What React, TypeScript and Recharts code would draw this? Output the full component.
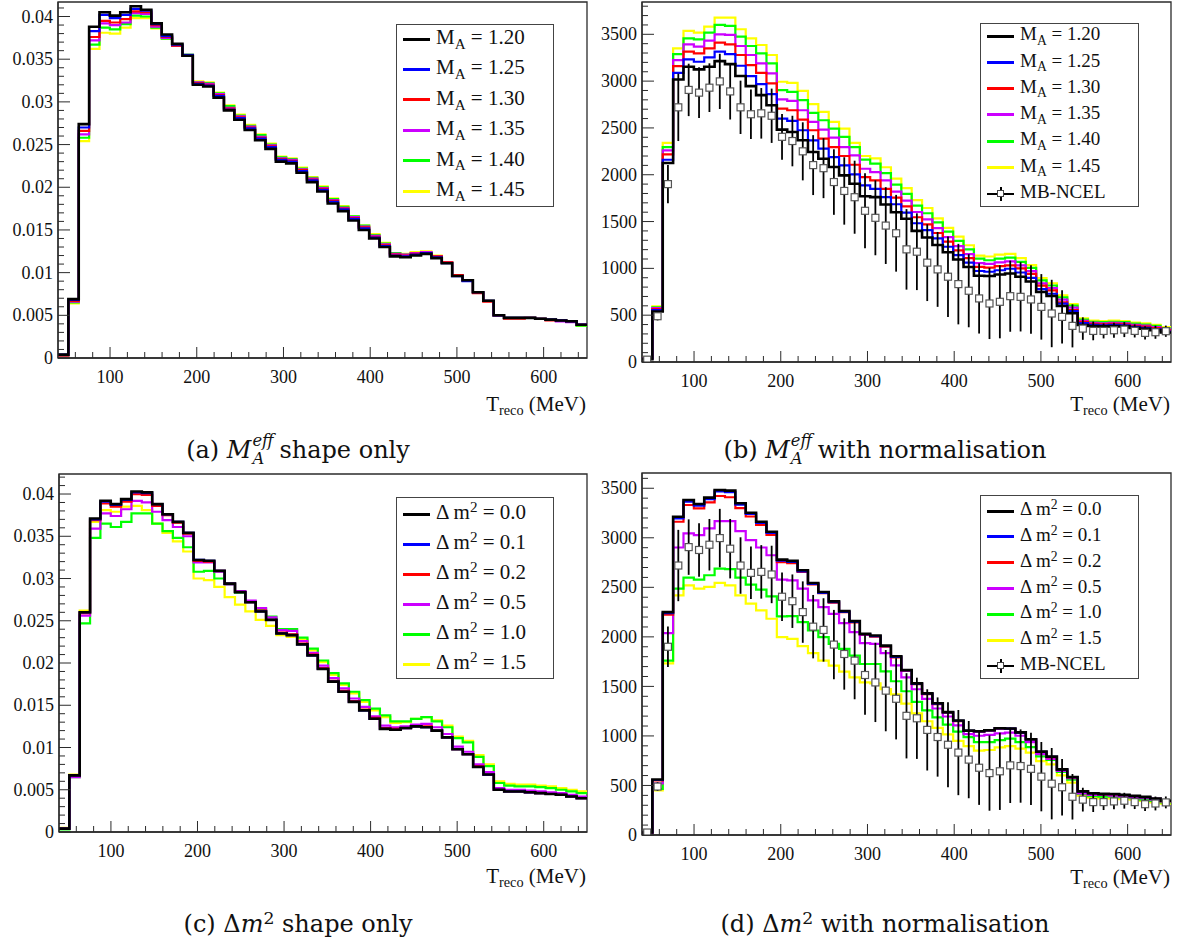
import React from "react";
import { ComposedChart, Line, XAxis, YAxis, ErrorBar, ReferenceArea } from "recharts";

// 51 bins, 40–650 MeV
const BIN_EDGES = [
  40, 51.96, 63.92, 75.88, 87.84, 99.8, 111.76, 123.73, 135.69, 147.65, 159.61, 171.57, 183.53,
  195.49, 207.45, 219.41, 231.37, 243.33, 255.29, 267.25, 279.22, 291.18, 303.14, 315.1, 327.06,
  339.02, 350.98, 362.94, 374.9, 386.86, 398.82, 410.78, 422.75, 434.71, 446.67, 458.63, 470.59,
  482.55, 494.51, 506.47, 518.43, 530.39, 542.35, 554.31, 566.27, 578.24, 590.2, 602.16, 614.12,
  626.08, 638.04, 650,
];

const COLORS = ["#000000", "#0000ff", "#ff0000", "#cc00ff", "#00ff00", "#ffff00"];
const MA_LABELS = ["1.20", "1.25", "1.30", "1.35", "1.40", "1.45"];
const DM2_LABELS = ["0.0", "0.1", "0.2", "0.5", "1.0", "1.5"];
const X_TICKS = [60, 80, 100, 120, 140, 160, 180, 200, 220, 240, 260, 280, 300, 320, 340, 360, 380, 400, 420, 440, 460, 480, 500, 520, 540, 560, 580, 600, 620, 640];

// (a) M_A shape only
const A_MA120 = [0.0004, 0.0069, 0.0274, 0.0388, 0.0405, 0.0401, 0.0405, 0.0412, 0.0408, 0.0392, 0.0379, 0.0368, 0.0354, 0.0320, 0.0318, 0.0305, 0.0290, 0.0279, 0.0267, 0.0255, 0.0245, 0.0230, 0.0228, 0.0217, 0.0206, 0.0195, 0.0181, 0.0172, 0.0161, 0.0150, 0.0140, 0.0130, 0.0119, 0.0118, 0.0120, 0.0122, 0.0117, 0.0111, 0.0096, 0.0091, 0.0077, 0.0067, 0.0050, 0.0047, 0.0047, 0.0047, 0.0046, 0.0045, 0.0044, 0.0043, 0.0039];
const A_MA125 = [0.0004, 0.0068, 0.0270, 0.0383, 0.0402, 0.0398, 0.0402, 0.0409, 0.0407, 0.0391, 0.0377, 0.0367, 0.0355, 0.0321, 0.0319, 0.0307, 0.0291, 0.0281, 0.0269, 0.0257, 0.0247, 0.0232, 0.0230, 0.0219, 0.0208, 0.0197, 0.0183, 0.0174, 0.0163, 0.0152, 0.0141, 0.0131, 0.0120, 0.0119, 0.0121, 0.0123, 0.0118, 0.0111, 0.0096, 0.0090, 0.0077, 0.0067, 0.0050, 0.0047, 0.0047, 0.0047, 0.0046, 0.0045, 0.0044, 0.0043, 0.0039];
const A_MA130 = [0.0003, 0.0067, 0.0266, 0.0376, 0.0395, 0.0393, 0.0397, 0.0406, 0.0405, 0.0390, 0.0376, 0.0366, 0.0354, 0.0322, 0.0320, 0.0308, 0.0292, 0.0282, 0.0270, 0.0258, 0.0248, 0.0233, 0.0231, 0.0220, 0.0209, 0.0198, 0.0184, 0.0175, 0.0164, 0.0153, 0.0142, 0.0132, 0.0121, 0.0120, 0.0122, 0.0123, 0.0119, 0.0112, 0.0097, 0.0091, 0.0076, 0.0066, 0.0050, 0.0046, 0.0046, 0.0047, 0.0046, 0.0044, 0.0044, 0.0043, 0.0039];
const A_MA135 = [0.0003, 0.0066, 0.0262, 0.0372, 0.0392, 0.0390, 0.0393, 0.0404, 0.0403, 0.0388, 0.0375, 0.0366, 0.0354, 0.0323, 0.0321, 0.0309, 0.0293, 0.0283, 0.0271, 0.0259, 0.0249, 0.0234, 0.0232, 0.0221, 0.0210, 0.0199, 0.0185, 0.0176, 0.0165, 0.0154, 0.0143, 0.0133, 0.0122, 0.0121, 0.0123, 0.0124, 0.0119, 0.0112, 0.0097, 0.0091, 0.0077, 0.0067, 0.0050, 0.0047, 0.0047, 0.0047, 0.0046, 0.0045, 0.0043, 0.0042, 0.0039];
const A_MA140 = [0.0003, 0.0065, 0.0258, 0.0367, 0.0387, 0.0385, 0.0391, 0.0401, 0.0400, 0.0387, 0.0374, 0.0366, 0.0355, 0.0323, 0.0322, 0.0310, 0.0295, 0.0284, 0.0272, 0.0261, 0.0250, 0.0235, 0.0233, 0.0222, 0.0211, 0.0200, 0.0186, 0.0177, 0.0166, 0.0155, 0.0144, 0.0134, 0.0123, 0.0121, 0.0123, 0.0124, 0.0119, 0.0112, 0.0097, 0.0091, 0.0077, 0.0067, 0.0050, 0.0047, 0.0047, 0.0047, 0.0046, 0.0045, 0.0044, 0.0043, 0.0038];
const A_MA145 = [0.0003, 0.0064, 0.0254, 0.0362, 0.0381, 0.0380, 0.0387, 0.0398, 0.0398, 0.0386, 0.0374, 0.0366, 0.0355, 0.0324, 0.0323, 0.0311, 0.0296, 0.0285, 0.0273, 0.0262, 0.0251, 0.0236, 0.0234, 0.0223, 0.0212, 0.0201, 0.0187, 0.0178, 0.0166, 0.0155, 0.0145, 0.0135, 0.0123, 0.0122, 0.0124, 0.0125, 0.0120, 0.0112, 0.0097, 0.0091, 0.0077, 0.0067, 0.0050, 0.0047, 0.0047, 0.0047, 0.0046, 0.0045, 0.0044, 0.0043, 0.0038];

// (b) M_A with normalisation
const B_MA120 = [30, 540, 2125, 3018, 3154, 3125, 3154, 3214, 3182, 3054, 2946, 2850, 2743, 2482, 2457, 2368, 2243, 2171, 2082, 1993, 1904, 1771, 1761, 1682, 1600, 1530, 1400, 1330, 1250, 1172, 1095, 1015, 922, 918, 935, 945, 910, 860, 748, 705, 598, 520, 395, 385, 380, 385, 380, 365, 355, 340, 315];
const B_MA125 = [35, 555, 2160, 3089, 3232, 3207, 3254, 3314, 3289, 3164, 3054, 2968, 2861, 2600, 2575, 2475, 2368, 2279, 2189, 2100, 2004, 1886, 1850, 1761, 1685, 1596, 1482, 1409, 1320, 1231, 1142, 1061, 972, 964, 980, 996, 956, 899, 778, 729, 624, 543, 415, 396, 391, 396, 391, 376, 366, 351, 326];
const B_MA130 = [38, 565, 2218, 3160, 3314, 3296, 3350, 3411, 3393, 3279, 3171, 3089, 2975, 2707, 2689, 2589, 2475, 2386, 2296, 2200, 2107, 1975, 1939, 1850, 1756, 1663, 1546, 1470, 1378, 1285, 1193, 1109, 1016, 1008, 1025, 1033, 1000, 941, 815, 764, 638, 554, 428, 407, 402, 407, 402, 387, 377, 362, 337];
const B_MA135 = [40, 575, 2260, 3225, 3393, 3368, 3432, 3500, 3493, 3375, 3279, 3189, 3082, 2804, 2789, 2689, 2564, 2482, 2396, 2296, 2207, 2064, 2029, 1939, 1819, 1723, 1602, 1524, 1429, 1334, 1238, 1152, 1057, 1048, 1065, 1074, 1031, 970, 840, 788, 667, 580, 440, 418, 413, 418, 413, 398, 388, 373, 348];
const B_MA140 = [42, 585, 2296, 3289, 3457, 3446, 3518, 3600, 3589, 3475, 3375, 3296, 3189, 2904, 2886, 2796, 2661, 2582, 2493, 2404, 2296, 2161, 2118, 2018, 1895, 1796, 1670, 1589, 1491, 1392, 1293, 1203, 1105, 1087, 1105, 1114, 1069, 1006, 871, 817, 691, 602, 452, 430, 425, 430, 425, 410, 400, 385, 360];
const B_MA145 = [45, 595, 2340, 3350, 3536, 3518, 3582, 3679, 3679, 3554, 3457, 3386, 3279, 2993, 2982, 2896, 2754, 2671, 2564, 2493, 2340, 2200, 2175, 2080, 1959, 1857, 1728, 1645, 1534, 1432, 1340, 1247, 1137, 1127, 1146, 1155, 1109, 1035, 896, 841, 711, 619, 465, 442, 437, 442, 437, 422, 412, 397, 372];

// (c) dm2 shape only
const C_DM00 = [0.0004, 0.0067, 0.0260, 0.0371, 0.0392, 0.0388, 0.0394, 0.0403, 0.0402, 0.0388, 0.0376, 0.0367, 0.0354, 0.0322, 0.0321, 0.0309, 0.0294, 0.0284, 0.0272, 0.0261, 0.0251, 0.0235, 0.0233, 0.0222, 0.0209, 0.0193, 0.0178, 0.0166, 0.0154, 0.0144, 0.0134, 0.0122, 0.0121, 0.0123, 0.0125, 0.0124, 0.0120, 0.0112, 0.0098, 0.0092, 0.0077, 0.0068, 0.0050, 0.0048, 0.0048, 0.0047, 0.0046, 0.0045, 0.0044, 0.0042, 0.0040];
const C_DM01 = [0.0004, 0.0067, 0.0260, 0.0370, 0.0391, 0.0387, 0.0393, 0.0402, 0.0401, 0.0388, 0.0376, 0.0367, 0.0354, 0.0322, 0.0321, 0.0309, 0.0294, 0.0284, 0.0272, 0.0261, 0.0251, 0.0235, 0.0233, 0.0222, 0.0209, 0.0193, 0.0178, 0.0166, 0.0154, 0.0144, 0.0134, 0.0122, 0.0121, 0.0123, 0.0125, 0.0124, 0.0120, 0.0112, 0.0098, 0.0092, 0.0077, 0.0068, 0.0050, 0.0048, 0.0048, 0.0047, 0.0046, 0.0045, 0.0044, 0.0042, 0.0040];
const C_DM02 = [0.0004, 0.0067, 0.0259, 0.0369, 0.0389, 0.0385, 0.0391, 0.0400, 0.0399, 0.0386, 0.0375, 0.0366, 0.0353, 0.0321, 0.0320, 0.0309, 0.0294, 0.0284, 0.0272, 0.0262, 0.0251, 0.0236, 0.0234, 0.0223, 0.0210, 0.0194, 0.0179, 0.0167, 0.0155, 0.0145, 0.0135, 0.0123, 0.0122, 0.0123, 0.0125, 0.0125, 0.0120, 0.0112, 0.0098, 0.0092, 0.0078, 0.0068, 0.0050, 0.0048, 0.0048, 0.0047, 0.0046, 0.0045, 0.0044, 0.0042, 0.0040];
const C_DM05 = [0.0004, 0.0065, 0.0256, 0.0359, 0.0377, 0.0374, 0.0382, 0.0392, 0.0390, 0.0379, 0.0369, 0.0361, 0.0350, 0.0319, 0.0319, 0.0308, 0.0293, 0.0285, 0.0274, 0.0265, 0.0254, 0.0239, 0.0238, 0.0226, 0.0212, 0.0197, 0.0182, 0.0170, 0.0158, 0.0148, 0.0137, 0.0126, 0.0124, 0.0125, 0.0127, 0.0128, 0.0124, 0.0116, 0.0101, 0.0095, 0.0080, 0.0071, 0.0052, 0.0050, 0.0050, 0.0049, 0.0048, 0.0047, 0.0046, 0.0044, 0.0042];
const C_DM10 = [0.0003, 0.0065, 0.0247, 0.0348, 0.0365, 0.0361, 0.0367, 0.0377, 0.0377, 0.0365, 0.0356, 0.0348, 0.0337, 0.0308, 0.0309, 0.0300, 0.0293, 0.0283, 0.0273, 0.0264, 0.0255, 0.0240, 0.0240, 0.0230, 0.0217, 0.0203, 0.0188, 0.0176, 0.0166, 0.0156, 0.0146, 0.0138, 0.0131, 0.0131, 0.0134, 0.0136, 0.0131, 0.0124, 0.0111, 0.0106, 0.0089, 0.0078, 0.0058, 0.0055, 0.0054, 0.0054, 0.0053, 0.0052, 0.0050, 0.0048, 0.0046];
const C_DM15 = [0.0005, 0.0068, 0.0262, 0.0367, 0.0381, 0.0379, 0.0385, 0.0386, 0.0381, 0.0365, 0.0354, 0.0344, 0.0332, 0.0300, 0.0298, 0.0290, 0.0278, 0.0269, 0.0261, 0.0251, 0.0244, 0.0233, 0.0231, 0.0228, 0.0215, 0.0201, 0.0186, 0.0174, 0.0164, 0.0154, 0.0144, 0.0136, 0.0129, 0.0130, 0.0134, 0.0136, 0.0132, 0.0126, 0.0113, 0.0108, 0.0091, 0.0080, 0.0060, 0.0057, 0.0056, 0.0056, 0.0055, 0.0054, 0.0052, 0.0050, 0.0048];

// (d) dm2 with normalisation
const D_DM00 = [25, 560, 2250, 3213, 3382, 3341, 3405, 3483, 3476, 3348, 3253, 3162, 3061, 2780, 2767, 2672, 2544, 2453, 2358, 2260, 2159, 2031, 2014, 1912, 1804, 1666, 1530, 1430, 1330, 1240, 1156, 1054, 1048, 1058, 1078, 1075, 1036, 966, 842, 791, 662, 585, 440, 422, 415, 414, 405, 395, 385, 368, 345];
const D_DM01 = [25, 555, 2240, 3195, 3365, 3325, 3390, 3468, 3460, 3335, 3240, 3150, 3050, 2770, 2757, 2662, 2535, 2445, 2350, 2252, 2152, 2025, 2008, 1906, 1798, 1661, 1526, 1426, 1326, 1237, 1153, 1052, 1046, 1056, 1076, 1073, 1034, 964, 840, 789, 660, 583, 438, 420, 413, 412, 403, 393, 383, 366, 343];
const D_DM02 = [24, 550, 2225, 3162, 3331, 3297, 3358, 3422, 3409, 3300, 3215, 3130, 3030, 2755, 2745, 2655, 2530, 2440, 2345, 2250, 2145, 2020, 2002, 1900, 1792, 1656, 1522, 1422, 1322, 1234, 1150, 1050, 1044, 1054, 1074, 1072, 1032, 962, 838, 787, 658, 581, 436, 418, 411, 410, 401, 391, 381, 364, 341];
const D_DM05 = [22, 520, 2037, 2902, 3044, 3027, 3095, 3169, 3169, 3068, 2976, 2902, 2824, 2578, 2571, 2487, 2368, 2301, 2233, 2139, 2048, 1936, 1929, 1835, 1713, 1592, 1471, 1374, 1277, 1196, 1107, 1018, 1002, 1010, 1026, 1034, 1002, 937, 816, 768, 646, 574, 420, 404, 404, 396, 388, 380, 372, 356, 339];
const D_DM10 = [20, 465, 1760, 2487, 2598, 2578, 2622, 2689, 2683, 2598, 2527, 2476, 2409, 2206, 2210, 2149, 2064, 1997, 1929, 1878, 1811, 1726, 1726, 1652, 1552, 1451, 1344, 1258, 1187, 1115, 1044, 987, 937, 937, 958, 972, 937, 887, 794, 758, 636, 558, 415, 393, 386, 386, 379, 372, 358, 343, 329];
const D_DM15 = [30, 450, 1733, 2419, 2520, 2487, 2504, 2544, 2520, 2419, 2335, 2267, 2183, 1997, 1980, 1906, 1835, 1760, 1710, 1649, 1591, 1541, 1531, 1473, 1419, 1327, 1228, 1148, 1082, 1016, 950, 898, 851, 858, 884, 898, 871, 832, 746, 713, 601, 528, 396, 376, 370, 370, 363, 356, 343, 330, 317];

// MiniBooNE NCEL data with errors
const MB_NCEL = [25, 489, 1900, 2720, 2906, 2877, 2930, 2997, 2890, 2720, 2646, 2656, 2630, 2405, 2360, 2250, 2103, 2070, 1922, 1827, 1760, 1615, 1540, 1457, 1375, 1203, 1178, 1061, 989, 911, 832, 761, 679, 625, 643, 703, 696, 668, 589, 518, 482, 386, 357, 332, 332, 339, 346, 332, 311, 318, 329];
const MB_NCEL_ERR = [10, 45, 205, 360, 280, 270, 260, 295, 300, 285, 265, 270, 290, 245, 270, 310, 320, 320, 350, 360, 390, 400, 400, 410, 410, 430, 410, 410, 400, 430, 430, 390, 375, 380, 390, 380, 370, 365, 350, 360, 285, 230, 120, 100, 80, 80, 80, 70, 70, 70, 60];

const SERIF = "Liberation Serif";
const FRAME = "#2b2b2b";

function buildRows(series: number[][]) {
  return BIN_EDGES.map((x, i) => {
    const row: Record<string, number> = { x };
    series.forEach((vals, k) => {
      row["s" + k] = vals[Math.min(i, vals.length - 1)];
    });
    return row;
  });
}

const mbPoints = MB_NCEL.map((y, i) => ({
  x: (BIN_EDGES[i] + BIN_EDGES[i + 1]) / 2,
  y,
  err: MB_NCEL_ERR[i],
}));

function makeXTick(fontSize: number) {
  return (props: any) => {
    const { x, y, payload } = props;
    const v = payload.value;
    const major = v % 100 === 0;
    return (
      <g>
        <line x1={x} x2={x} y1={y} y2={y - (major ? 11 : 6)} stroke={FRAME} strokeWidth={1} />
        {major && (
          <text x={x} y={y + 25} textAnchor="middle" fill="#111" style={{ fontFamily: SERIF, fontSize }}>
            {v}
          </text>
        )}
      </g>
    );
  };
}

function makeYTick(fontSize: number, isMajor: (v: number) => boolean, fmt: (v: number) => string) {
  return (props: any) => {
    const { x, y, payload } = props;
    const v = payload.value;
    const major = isMajor(v);
    return (
      <g>
        <line x1={x} x2={x + (major ? 12 : 6)} y1={y} y2={y} stroke={FRAME} strokeWidth={1} />
        {major && (
          <text x={x - 5} y={y} dy="0.34em" textAnchor="end" fill="#111" style={{ fontFamily: SERIF, fontSize }}>
            {fmt(v)}
          </text>
        )}
      </g>
    );
  };
}

const shapeTicks = Array.from({ length: 43 }, (_, i) => +(i * 0.001).toFixed(3));
const shapeMajor = (v: number) => Math.round(v * 1000) % 5 === 0;
const shapeFmt = (v: number) => String(+v.toFixed(3));
const normMajor = (v: number) => Math.round(v) % 500 === 0;
const normFmt = (v: number) => String(Math.round(v));

interface PanelProps {
  left: number;
  top: number;
  width: number;
  height: number;
  margin: { top: number; right: number; bottom: number; left: number };
  yAxisWidth: number;
  yMax: number;
  yTicks: number[];
  isMajor: (v: number) => boolean;
  fmt: (v: number) => string;
  fontSize: number;
  series: number[][];
  withData: boolean;
}

function HistPanel(p: PanelProps) {
  const rows = buildRows(p.series);
  const order = [5, 4, 3, 2, 1, 0];
  const ticks = p.yTicks.filter((t) => t <= p.yMax);
  return (
    <div style={{ position: "absolute", left: p.left, top: p.top }}>
      <ComposedChart width={p.width} height={p.height} data={rows} margin={p.margin}>
        <XAxis
          dataKey="x"
          type="number"
          domain={[40, 650]}
          allowDataOverflow
          ticks={X_TICKS}
          interval={0}
          height={30}
          tickSize={0}
          tickMargin={0}
          tickLine={false}
          axisLine={{ stroke: FRAME, strokeWidth: 1.3 }}
          tick={makeXTick(p.fontSize)}
        />
        <YAxis
          type="number"
          domain={[0, p.yMax]}
          allowDataOverflow
          ticks={ticks}
          interval={0}
          width={p.yAxisWidth}
          tickSize={0}
          tickMargin={0}
          tickLine={false}
          axisLine={{ stroke: FRAME, strokeWidth: 1.3 }}
          tick={makeYTick(p.fontSize, p.isMajor, p.fmt)}
        />
        {order.map((k) => (
          <Line
            key={k}
            type="stepAfter"
            dataKey={"s" + k}
            stroke={COLORS[k]}
            strokeWidth={k === 0 ? 2.6 : 2.2}
            dot={false}
            activeDot={false}
            isAnimationActive={false}
          />
        ))}
        {p.withData && (
          <Line
            data={mbPoints}
            dataKey="y"
            stroke="none"
            isAnimationActive={false}
            activeDot={false}
            dot={(d: any) => (
              <rect
                key={"sq" + d.index}
                x={d.cx - 3.5}
                y={d.cy - 3.5}
                width={7}
                height={7}
                fill="#fff"
                stroke="#555"
                strokeWidth={1.2}
              />
            )}
          >
            <ErrorBar dataKey="err" direction="y" width={0} stroke="#000" strokeWidth={1.8} />
          </Line>
        )}
        <ReferenceArea x1={40} x2={650} y1={0} y2={p.yMax} fill="none" stroke={FRAME} strokeWidth={1.3} />
      </ComposedChart>
    </div>
  );
}

interface LegendProps {
  left: number;
  top: number;
  width: number;
  height: number;
  row0: number;
  gap: number;
  fontSize: number;
  labels: React.ReactNode[];
  withData: boolean;
}

function HistLegend(p: LegendProps) {
  const rows = p.labels.map((label, i) => ({ label, color: COLORS[i] }));
  return (
    <div
      style={{
        position: "absolute",
        left: p.left,
        top: p.top,
        width: p.width,
        height: p.height,
        border: "1px solid #444",
        background: "#fff",
        boxSizing: "border-box",
        fontFamily: SERIF,
        fontSize: p.fontSize,
        color: "#111",
      }}
    >
      {rows.map((r, i) => (
        <div key={i} style={{ position: "absolute", left: 0, top: p.row0 + i * p.gap, width: "100%" }}>
          <div style={{ position: "absolute", left: 6, top: -1.5, width: 27, height: 3, background: r.color }} />
          <div style={{ position: "absolute", left: 39, top: -p.fontSize * 0.62, whiteSpace: "nowrap", lineHeight: 1.1 }}>
            {r.label}
          </div>
        </div>
      ))}
      {p.withData && (
        <div style={{ position: "absolute", left: 0, top: p.row0 + 6 * p.gap, width: "100%" }}>
          <div style={{ position: "absolute", left: 6, top: -1, width: 27, height: 2, background: "#000" }} />
          <div style={{ position: "absolute", left: 18.5, top: -7, width: 2, height: 14, background: "#000" }} />
          <div style={{ position: "absolute", left: 16, top: -3.5, width: 7, height: 7, border: "1.2px solid #444", background: "#fff", boxSizing: "border-box" }} />
          <div style={{ position: "absolute", left: 39, top: -p.fontSize * 0.62, whiteSpace: "nowrap", lineHeight: 1.1 }}>
            MB-NCEL
          </div>
        </div>
      )}
    </div>
  );
}

const sub = { fontSize: "0.72em", position: "relative" as const, top: "0.32em" };
const sup = { fontSize: "0.72em", position: "relative" as const, top: "-0.45em" };

const maLabels = MA_LABELS.map((v) => (
  <span>
    M<span style={sub}>A</span> = {v}
  </span>
));
const dmLabels = DM2_LABELS.map((v) => (
  <span>
    Δ m<span style={sup}>2</span> = {v}
  </span>
));

function XTitle({ right, top }: { right: number; top: number }) {
  return (
    <div
      style={{
        position: "absolute",
        left: right - 200,
        width: 200,
        top,
        textAlign: "right",
        fontFamily: SERIF,
        fontSize: 21,
        lineHeight: 1,
        color: "#111",
        whiteSpace: "nowrap",
      }}
    >
      T<span style={{ fontSize: "0.68em", position: "relative", top: "0.3em" }}>reco</span> (MeV)
    </div>
  );
}

// M_A^eff with stacked super/subscript
const MA_EFF = (
  <>
    <i>M</i>
    <span style={{ display: "inline-block", position: "relative", width: "1.25em", height: "1em", fontSize: "0.68em", fontStyle: "italic", verticalAlign: "baseline" }}>
      <span style={{ position: "absolute", left: 1, top: "-0.55em", lineHeight: 1 }}>eff</span>
      <span style={{ position: "absolute", left: 1, top: "0.55em", lineHeight: 1 }}>A</span>
    </span>
  </>
);
const DM2 = (
  <>
    Δ<i>m</i>
    <span style={sup}>2</span>
  </>
);

function Caption({ cx, top, children }: { cx: number; top: number; children: React.ReactNode }) {
  return (
    <div
      style={{
        position: "absolute",
        left: cx - 250,
        width: 500,
        top,
        textAlign: "center",
        fontFamily: "DejaVu Serif",
        fontSize: 24,
        lineHeight: 1.2,
        color: "#111",
        whiteSpace: "nowrap",
      }}
    >
      {children}
    </div>
  );
}

export default function App() {
  return (
    <div style={{ position: "absolute", left: 0, top: 0, width: 1181, height: 940, background: "#fff", overflow: "hidden" }}>
      <HistPanel
        left={0}
        top={0}
        width={600}
        height={420}
        margin={{ top: 2, right: 13, bottom: 32, left: 0 }}
        yAxisWidth={58}
        yMax={0.0417}
        yTicks={shapeTicks}
        isMajor={shapeMajor}
        fmt={shapeFmt}
        fontSize={18}
        series={[A_MA120, A_MA125, A_MA130, A_MA135, A_MA140, A_MA145]}
        withData={false}
      />
      <HistPanel
        left={590}
        top={0}
        width={591}
        height={420}
        margin={{ top: 2, right: 10, bottom: 28, left: 0 }}
        yAxisWidth={52}
        yMax={3845}
        yTicks={Array.from({ length: 39 }, (_, i) => i * 100)}
        isMajor={normMajor}
        fmt={normFmt}
        fontSize={18}
        series={[B_MA120, B_MA125, B_MA130, B_MA135, B_MA140, B_MA145]}
        withData={true}
      />
      <HistPanel
        left={0}
        top={470}
        width={600}
        height={420}
        margin={{ top: 4, right: 13, bottom: 28, left: 0 }}
        yAxisWidth={59}
        yMax={0.04237}
        yTicks={shapeTicks}
        isMajor={shapeMajor}
        fmt={shapeFmt}
        fontSize={18}
        series={[C_DM00, C_DM01, C_DM02, C_DM05, C_DM10, C_DM15]}
        withData={false}
      />
      <HistPanel
        left={590}
        top={470}
        width={591}
        height={420}
        margin={{ top: 3, right: 10, bottom: 25, left: 0 }}
        yAxisWidth={52}
        yMax={3654}
        yTicks={Array.from({ length: 37 }, (_, i) => i * 100)}
        isMajor={normMajor}
        fmt={normFmt}
        fontSize={18}
        series={[D_DM00, D_DM01, D_DM02, D_DM05, D_DM10, D_DM15]}
        withData={true}
      />

      <HistLegend left={396} top={24} width={158} height={183} row0={14} gap={30.4} fontSize={21} labels={maLabels} withData={false} />
      <HistLegend left={980} top={23} width={159} height={184} row0={12} gap={26.3} fontSize={19} labels={maLabels} withData={true} />
      <HistLegend left={396} top={497} width={158} height={182} row0={16} gap={30} fontSize={21} labels={dmLabels} withData={false} />
      <HistLegend left={980} top={495} width={159} height={184} row0={15} gap={25.8} fontSize={19} labels={dmLabels} withData={true} />

      <XTitle right={586} top={394} />
      <XTitle right={1170} top={394} />
      <XTitle right={586} top={866} />
      <XTitle right={1170} top={867} />

      <Caption cx={298} top={436}>(a) {MA_EFF} shape only</Caption>
      <Caption cx={885} top={436}>(b) {MA_EFF} with normalisation</Caption>
      <Caption cx={298} top={910}>(c) {DM2} shape only</Caption>
      <Caption cx={885} top={910}>(d) {DM2} with normalisation</Caption>
    </div>
  );
}
